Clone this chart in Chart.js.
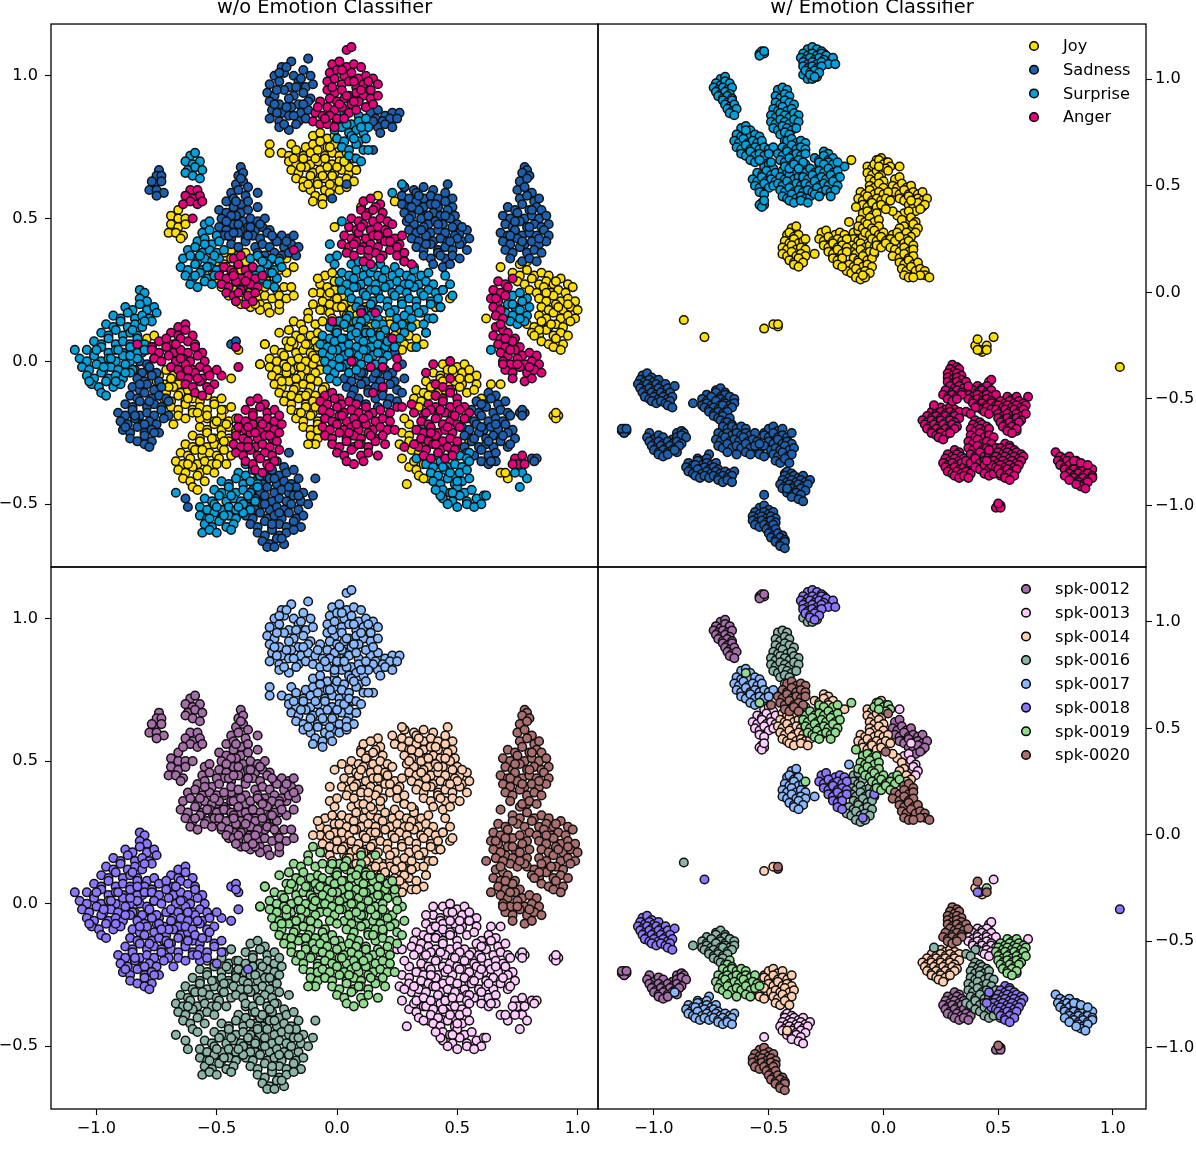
<!DOCTYPE html>
<html>
<head>
<meta charset="utf-8">
<style>
html, body { margin: 0; background: #fff; overflow: hidden; }
canvas { position: absolute; left: 0; top: 0; }
</style>
<script src="https://cdn.jsdelivr.net/npm/chart.js@4"></script>
</head>
<body>
<canvas id="topLeft" width="1196" height="1155"></canvas>
<canvas id="topRight" width="1196" height="1155"></canvas>
<canvas id="bottomLeft" width="1196" height="1155"></canvas>
<canvas id="bottomRight" width="1196" height="1155"></canvas>
<script>
// flat x,y pairs in hundredths of an axis unit
const tickValues = [-1, -0.5, 0, 0.5, 1];
const emotionNames = ['Joy', 'Sadness', 'Surprise', 'Anger'];
const emotionColors = ['#FFDF00', '#1C5FAE', '#00A0DC', '#E5007D'];
const speakerNames = ['spk-0012', 'spk-0013', 'spk-0014', 'spk-0016', 'spk-0017', 'spk-0018', 'spk-0019', 'spk-0020'];
const speakerColors = ['#A66EA8', '#FFCCFF', '#FFCFB0', '#8AB5A8', '#88B8FF', '#8B77FF', '#8FDC8F', '#AA6E6E'];
const panelTitles = ['w/o Emotion Classifier', 'w/ Emotion Classifier'];

// left column, without the classifier
const l17Sad = [-23,103,-19,105,-12,106,-26,100,-22,101,-18,100,-14,102,-11,100,-28,97,-24,98,-20,96,-16,98,-13,96,-10,97,-29,94,-26,93,-22,95,-18,93,-14,94,-11,92,-28,91,-24,90,-20,92,-16,90,-12,91,-27,88,-23,87,-19,89,-15,87,-12,88,-28,85,-24,84,-20,86,-16,84,-13,85,-24,82,-20,81,-17,83,14,87,17,88,20,86,23,87,26,87,16,85,19,84,22,85,25,85,17,82,20,83,23,82,18,80,15,84,15,74,4,62,-2,57,-21,103,-25,95,-17,96,-21,89,-25,87,-14,90,-26,90,-18,86,-22,83,-15,99,-24,101];
const l17Ang = [4,109,6,110,-2,104,1,105,4,103,7,104,10,103,-3,101,0,102,3,100,6,101,9,99,12,100,15,99,-4,98,-1,99,2,97,5,98,8,96,11,97,14,95,17,97,-4,95,-1,94,2,95,5,93,8,94,11,93,14,92,17,93,-3,92,0,91,3,92,6,90,9,91,12,89,15,90,-7,91,-4,89,-1,88,2,89,5,87,8,88,-9,87,-6,86,-3,86,0,85,3,85,-10,84,-7,83,-4,83,-1,82,2,102,7,98,13,98,10,95,4,93,-2,96,1,90,7,91,-5,85,-8,89];
const l17Joy = [-28,76,-28,73,-10,79,-7,80,-4,78,-1,79,-19,76,-13,75,-10,76,-7,77,-4,75,-1,76,2,75,-23,73,-20,72,-17,74,-14,72,-11,73,-8,74,-5,72,-2,73,1,72,4,73,-20,70,-17,69,-14,71,-11,69,-8,70,-5,71,-2,69,1,70,4,69,7,71,-19,67,-16,66,-13,68,-10,66,-7,67,-4,68,-1,66,2,67,5,66,8,67,-17,64,-14,63,-11,65,-8,63,-5,64,-2,65,1,63,4,64,7,63,-14,61,-11,60,-8,62,-5,60,-2,61,1,60,4,61,-9,58,-6,57,-3,59,-10,56,-6,55,5,68,8,67,-9,71,-3,75,-15,68,-6,65,-12,62,0,68,-18,71,-3,62,3,70];
const l17Sur = [3,87,6,88,9,86,0,84,3,85,6,83,9,84,12,85,4,88,-1,81,2,82,5,80,8,81,11,80,13,82,0,78,3,77,6,79,9,77,12,78,2,75,5,74,8,76,11,74,5,72,8,71,10,70,13,74,4,83,7,78,10,82];

const l12Sad = [-74,67,-75,65,-73,65,-76,62,-73,63,-78,60,-75,60,-72,59,-75,58,-77,63,-40,68,-41,65,-39,66,-42,62,-39,63,-37,61,-44,59,-41,60,-38,58,-46,56,-43,57,-40,55,-37,56,-33,59,-49,53,-46,52,-43,54,-40,52,-37,53,-33,54,-48,50,-45,49,-42,51,-39,49,-36,50,-33,49,-30,50,-49,47,-46,46,-43,48,-40,46,-37,47,-34,46,-31,47,-28,46,-47,44,-44,43,-41,45,-38,43,-35,44,-32,43,-29,45,-26,43,-23,44,-20,43,-18,44,-44,41,-41,40,-38,42,-34,40,-31,41,-28,40,-25,42,-22,40,-19,41,-16,40,-45,44,-33,38,-30,37,-26,38,-23,37,-20,38,-17,37,-32,36,-28,35,-24,36,-40,64,-42,56,-44,51,-41,48,-36,47,-32,48,-27,44,-21,42,-37,44,-43,45,-46,49];
const l12Sur = [-61,72,-59,73,-63,70,-60,69,-57,70,-62,67,-59,68,-56,67,-63,66,-60,65,-57,64,-55,48,-53,49,-56,45,-53,46,-50,44,-58,42,-55,43,-52,41,-49,42,-62,39,-59,40,-56,38,-53,39,-50,38,-47,39,-64,36,-61,37,-58,35,-55,36,-52,35,-49,36,-65,33,-62,32,-59,34,-56,32,-53,33,-50,32,-63,30,-60,29,-57,31,-54,29,-51,30,-61,27,-58,26,-55,28,-52,27,-36,36,-33,37,-30,35,-27,36,-24,35,-35,33,-32,32,-29,34,-26,32,-23,33,-34,30,-31,29,-28,31,-25,29,-29,27,-26,26,-57,37,-54,33,-59,30,-51,37,-55,41,-31,35,-27,31];
const l12Joy = [-66,53,-69,51,-66,50,-63,50,-69,48,-66,47,-63,48,-70,45,-67,45,-64,44,-65,43,-47,38,-44,39,-41,37,-38,38,-50,35,-47,34,-44,36,-41,34,-38,35,-24,35,-21,36,-52,32,-49,31,-46,33,-43,31,-40,32,-37,31,-24,32,-21,31,-18,33,-50,29,-47,28,-44,30,-41,28,-38,29,-35,28,-32,30,-29,28,-26,29,-48,26,-45,25,-42,27,-38,25,-34,26,-31,25,-28,27,-25,25,-22,26,-19,26,-45,23,-41,22,-37,24,-33,22,-30,23,-27,22,-24,23,-21,22,-18,23,-40,20,-36,19,-32,20,-29,19,-32,18,-28,17,-24,18,-36,22,-43,25,-30,26,-24,20,-34,20];
const l12Ang = [-61,60,-58,60,-63,58,-60,57,-57,58,-61,56,-58,55,-56,56,-64,55,-60,50,-43,36,-40,37,-47,33,-44,32,-41,34,-38,32,-35,33,-49,30,-46,29,-43,31,-40,29,-37,30,-34,29,-31,30,-48,27,-45,26,-42,28,-39,26,-36,27,-33,26,-46,24,-43,23,-40,25,-37,23,-34,24,-42,21,-38,20,-35,21,-18,39,-43,30,-38,28,-41,24];

const l14Sad = [28,61,32,60,36,61,40,60,46,62,27,58,30,57,33,59,36,57,39,58,42,57,45,59,48,57,27,55,30,54,33,56,36,54,39,55,42,54,45,56,48,54,28,52,31,51,34,53,37,51,40,52,43,51,46,53,49,51,29,49,32,48,35,50,38,48,41,49,44,48,47,50,50,48,30,46,33,45,36,47,39,45,42,46,45,45,48,47,51,45,54,46,31,43,34,42,37,44,40,42,43,43,46,42,49,44,52,42,55,43,33,40,36,39,39,41,42,39,45,40,48,39,51,41,54,39,36,37,39,36,42,38,45,36,48,37,51,36,40,34,44,33,47,34,34,58,41,55,31,54,38,51,45,51,35,46,42,48,50,43,37,41,47,42,43,37,30,50,52,47];
const l14Joy = [-1,47,10,54,24,56,28,61,17,58,-5,30,-2,31,-7,27,-4,26,-1,28,-7,24,-4,23,-1,25,2,23,-6,21,-3,20,0,22,3,20,6,21,9,20,-6,18,-3,17,0,19,3,17,6,18,9,17,12,19,15,17,-2,15,1,14,4,16,7,14,10,15,13,14,16,16,19,14,22,15,40,15,4,12,7,11,10,13,13,11,16,12,19,11,22,13,25,11,28,12,12,9,15,8,18,10,21,8,24,9,27,8,30,9,33,8,20,6,24,5,28,6,31,5,24,4,27,4,37,10,44,25,47,22,41,19,35,17,30,15,-3,24,2,19,8,16,14,12,20,10,26,13,33,13,36,6,-8,29,-10,24,31,12,43,19];
const l14Sur = [2,49,23,59,27,62,-3,41,-3,36,6,34,9,35,12,33,18,34,24,33,28,35,32,33,2,31,5,30,8,32,11,30,14,31,17,30,20,32,23,30,26,31,29,30,32,32,35,30,38,31,1,28,4,27,7,29,10,27,13,28,16,27,19,29,22,27,25,28,28,27,31,29,34,27,37,28,40,27,2,25,5,24,8,26,11,24,14,25,17,24,20,26,23,24,26,25,29,24,32,26,35,24,38,25,41,24,44,25,6,22,9,21,12,23,15,21,18,22,21,21,24,23,27,21,30,22,33,21,36,23,39,21,42,22,48,23,8,19,11,18,14,20,17,18,21,19,24,18,27,20,30,18,33,19,36,18,39,20,14,16,17,15,22,17,25,15,28,16,31,15,34,17,38,15,19,13,27,13,31,12,36,13,40,15,37,10,33,5,-1,34,0,37,45,30,47,27,7,26,16,25,30,27,43,19,15,33,8,14,12,15,16,13,20,11,24,12,28,10,12,10,17,9,22,8,26,8,5,16,10,18];
const l14Ang = [11,56,14,57,18,55,10,53,13,52,16,54,19,52,6,50,9,49,12,51,15,49,18,50,21,49,5,47,8,46,11,48,14,46,17,47,20,46,23,48,3,44,6,43,9,45,12,43,15,44,18,43,21,45,24,43,27,44,2,41,5,40,8,42,11,40,14,41,17,40,20,42,23,40,26,41,4,38,7,37,10,39,13,37,16,38,19,37,22,39,25,37,28,38,11,35,14,34,18,36,28,35,31,34,15,53,10,47,17,44,7,41,22,42,13,39,25,40];

const l20Sad = [78,68,79,67,77,66,80,65,76,63,79,64,75,60,78,61,81,59,76,57,79,58,82,56,84,57,71,54,74,53,77,55,80,53,83,54,85,53,69,51,72,50,75,52,78,50,81,51,84,50,87,51,70,48,73,47,76,49,79,47,82,48,85,47,88,48,68,45,71,44,74,46,77,44,80,45,83,44,86,46,88,44,69,42,72,41,75,43,78,41,81,42,84,41,87,42,70,39,73,38,76,40,79,38,82,39,85,38,72,36,77,35,80,36,83,35,74,49,80,47,77,42,84,43,72,44,81,53];
const l20Joy = [68,33,76,34,79,35,73,31,76,30,79,32,82,30,85,31,88,30,75,28,78,27,81,29,84,27,87,28,90,27,93,29,96,27,80,25,83,24,86,26,89,24,92,25,95,24,98,26,84,22,87,21,90,23,93,21,96,22,99,21,85,19,88,18,91,20,94,18,97,19,100,18,84,16,87,15,90,17,93,15,96,16,99,15,62,15,79,13,82,12,85,14,88,12,91,13,94,12,97,14,81,10,84,9,87,11,90,9,93,10,96,9,85,7,88,6,91,8,94,6,90,5,93,4,87,24,92,19,89,13,84,11,96,20,91,28,78,15,82,9];
const l20Ang = [67,28,70,27,73,29,65,25,68,24,71,26,64,22,67,21,70,23,65,19,68,18,66,16,69,15,66,12,69,11,65,9,68,8,71,10,74,8,67,6,70,5,73,7,76,5,68,3,71,2,74,4,77,2,80,3,83,2,69,0,72,-1,75,1,78,-1,81,0,84,-1,70,-3,73,-4,76,-2,79,-4,82,-3,85,-4,73,-6,78,-7,81,-6,69,-1,72,4,68,13,75,-1,66,22,70,8,80,-2];
const l20Sur = [73,23,76,24,79,22,71,20,74,19,77,21,80,19,70,17,73,16,76,18,79,16,72,14,75,13,78,14,64,4,73,20,76,15];

const l19Joy = [-10,20,-12,17,-7,18,-18,14,-15,13,-12,15,-9,13,-6,14,-24,10,-20,11,-17,9,-14,11,-11,9,-8,10,-30,6,-21,7,-18,6,-15,8,-12,6,-9,7,-6,6,-26,4,-23,3,-20,5,-17,3,-14,4,-11,3,-8,5,-5,3,-28,1,-25,0,-22,2,-19,0,-16,1,-13,0,-10,2,-7,0,-28,-2,-25,-3,-22,-1,-19,-3,-16,-2,-13,-3,-10,-1,-7,-3,-27,-5,-24,-6,-21,-4,-18,-6,-15,-5,-12,-6,-9,-4,-26,-8,-23,-9,-20,-7,-17,-9,-14,-8,-11,-9,-8,-7,-5,-9,-24,-11,-21,-12,-18,-10,-15,-12,-12,-11,-9,-12,-6,-10,-22,-14,-19,-15,-16,-13,-13,-15,-10,-14,-7,-15,-4,-13,-19,-17,-16,-18,-13,-16,-10,-18,-7,-17,-4,-18,-17,-20,-14,-21,-11,-19,-8,-21,-5,-20,-14,-23,-11,-24,-8,-22,-5,-24,-11,-26,-8,-27,-9,-29,-12,-29,-32,-1,-19,7,-13,6,-21,-2,-15,-2,-9,1,-23,-7,-17,-6,-11,-6,-19,-12,-13,-12,-15,-18,-9,-16,-8,-24];
const l19Sad = [18,5,21,6,21,2,24,3,-1,11,8,-3,11,-4,14,-2,17,-4,20,-3,23,-4,3,-6,6,-7,9,-5,12,-7,15,-6,18,-7,21,-5,24,-7,4,-9,7,-10,10,-8,13,-10,16,-9,19,-10,22,-8,25,-10,6,-12,9,-13,13,-11,16,-13,19,-12,22,-13,12,-15,17,-16,21,-15,27,-1,28,-6,27,-11,25,-14,10,-4,16,-4];
const l19Sur = [1,14,4,15,10,14,-3,12,0,11,3,13,6,11,9,12,12,11,-6,9,-3,8,0,10,3,8,6,9,9,8,12,10,15,8,18,9,-7,6,-4,5,-1,7,2,5,5,6,8,5,11,7,14,5,17,6,20,5,-6,3,-3,2,0,4,3,2,6,3,9,2,12,4,15,2,18,3,21,2,-5,0,-2,-1,1,1,4,-1,7,0,10,-1,13,1,16,-1,19,0,-4,-3,-1,-4,2,-2,5,-4,8,-3,-3,-6,0,-7,2,8,8,10,-2,4,5,3,11,4,17,3,1,-2,14,10,21,7,24,5];
const l19Ang = [-5,-12,-2,-11,1,-13,15,-11,-7,-14,-4,-15,-1,-13,2,-15,5,-14,8,-15,-6,-17,-3,-18,0,-16,3,-18,6,-17,9,-18,12,-16,15,-18,18,-17,-5,-20,-2,-21,1,-19,4,-21,7,-20,10,-21,13,-19,16,-21,19,-20,22,-21,-6,-23,-3,-24,0,-22,3,-24,6,-23,9,-24,12,-22,15,-24,18,-23,21,-24,-5,-26,-2,-27,1,-25,4,-27,7,-26,10,-27,13,-25,16,-27,19,-26,-2,-29,1,-30,4,-28,7,-30,10,-29,13,-30,16,-28,0,-32,3,-33,6,-31,10,-33,13,-32,17,-33,4,-35,7,-36,11,-35,-2,14,10,17,23,8,25,1,25,-2,6,0,14,-2,19,-2,19,-9,16,17,2,-19,8,-22,14,-26,5,-25,11,-20,20,-29,24,-24,22,-18,9,-29];

const l13Joy = [44,-1,47,0,50,-2,53,-1,40,-4,43,-5,46,-3,49,-5,52,-4,55,-3,58,-5,37,-7,40,-8,43,-6,46,-8,49,-7,52,-8,55,-6,58,-8,64,-8,68,-8,33,-10,36,-11,39,-9,42,-11,45,-10,48,-11,51,-9,54,-11,57,-10,32,-13,35,-14,38,-12,60,-13,34,-16,27,-25,30,-26,30,-28,33,-29,36,-27,31,-31,34,-32,37,-30,27,-34,30,-37,33,-38,36,-36,34,-40,38,-41,36,-41,51,-31,55,-28,54,-25,90,-19,92,-19,91,-20,91,-18,68,-39,71,-41,70,-39,29,-43,48,-3,44,-7,51,-6,41,-12,30,-22,32,-35,28,-20,26,-29];
const l13Sad = [63,-11,66,-12,58,-14,61,-15,64,-13,67,-15,70,-14,56,-17,59,-18,62,-16,65,-18,68,-17,71,-18,54,-20,57,-21,60,-19,63,-21,66,-20,69,-21,72,-19,52,-23,55,-24,58,-22,61,-24,64,-23,67,-24,70,-22,73,-24,53,-26,56,-27,59,-25,62,-27,65,-26,68,-27,71,-25,74,-27,50,-29,53,-30,56,-28,59,-30,62,-29,65,-30,68,-28,71,-30,54,-32,57,-33,60,-31,63,-33,66,-32,60,-35,63,-36,66,-35,64,-35,76,-18,78,-18,77,-17,77,-19,81,-34,83,-34,82,-35,60,-23,66,-22,57,-27,63,-28,69,-26,60,-15,72,-29];
const l13Sur = [33,-34,55,-32,42,-33,45,-34,48,-32,51,-33,54,-34,37,-36,40,-37,43,-35,46,-37,49,-36,52,-37,55,-35,39,-39,42,-40,45,-38,48,-40,51,-39,54,-38,40,-42,43,-43,46,-41,49,-43,52,-42,55,-41,44,-45,47,-46,50,-44,53,-46,44,-48,48,-49,51,-47,54,-49,58,-48,61,-47,46,-50,50,-51,54,-50,60,-50,57,-51,62,-47,43,-47,77,-39,79,-41,76,-44,74,-39,36,-22,47,-39,44,-37,50,-42,56,-45,41,-45,48,-46];
const l13Ang = [40,-1,47,0,37,-4,41,-8,47,-6,44,-9,47,-10,41,-12,44,-13,47,-11,50,-13,38,-15,41,-16,44,-14,47,-16,50,-15,53,-16,31,-15,25,-16,27,-16,32,-18,36,-19,39,-17,42,-19,45,-18,48,-19,51,-17,55,-18,35,-21,38,-22,41,-20,44,-22,47,-21,50,-22,53,-20,33,-24,36,-25,39,-23,42,-25,45,-24,48,-25,51,-23,35,-27,38,-28,41,-26,44,-28,47,-27,50,-28,34,-30,37,-31,40,-29,43,-31,46,-30,49,-31,28,-30,32,-29,36,-33,39,-34,42,-32,45,-34,48,-33,74,-34,77,-33,75,-36,73,-36,78,-36,43,-17,39,-25,46,-23,41,-29,49,-19,37,-18];

const l18Sur = [-82,25,-80,24,-82,22,-79,21,-88,19,-85,18,-82,20,-79,18,-76,19,-93,16,-90,15,-87,17,-84,15,-81,16,-78,15,-75,17,-96,13,-93,12,-90,14,-87,12,-84,13,-81,12,-77,14,-98,10,-95,9,-92,11,-89,9,-86,10,-83,9,-101,7,-98,6,-95,8,-92,6,-89,7,-86,6,-83,8,-80,6,-104,4,-101,3,-98,5,-95,3,-92,4,-89,3,-86,5,-83,3,-80,4,-109,4,-107,1,-104,0,-101,2,-98,0,-95,1,-92,0,-89,2,-86,0,-83,1,-106,-2,-103,-3,-100,-1,-97,-3,-94,-2,-91,-3,-88,-1,-85,-3,-104,-5,-101,-6,-98,-4,-95,-6,-92,-5,-89,-6,-86,-4,-102,-8,-99,-9,-96,-7,-93,-9,-90,-8,-98,-11,-96,-12,-85,11,-91,4,-97,-2,-88,-4,-94,1,-100,4,-92,-7,-80,14,-86,2,-103,-7];
const l18Joy = [-79,8,-76,9,-80,5,-77,5,-77,-4,-74,-5,-71,-3,-68,-5,-75,-7,-72,-8,-69,-6,-66,-8,-74,-10,-71,-11,-68,-9,-65,-11,-62,-10,-72,-13,-69,-14,-66,-12,-63,-14,-60,-13,-57,-14,-54,-12,-51,-14,-48,-13,-69,-16,-66,-17,-63,-15,-60,-17,-57,-16,-54,-17,-51,-15,-48,-17,-66,-19,-63,-20,-60,-18,-57,-20,-54,-19,-68,-22,-50,-21,-41,4,-44,-6,-32,-1,-30,6,-62,-13,-58,-18,-70,-9];
const l18Sad = [-81,3,-79,4,-82,0,-79,-1,-76,1,-84,-3,-81,-4,-78,-2,-75,-4,-83,-6,-80,-7,-77,-5,-74,-7,-85,-9,-82,-10,-79,-8,-76,-10,-73,-9,-86,-12,-83,-13,-80,-11,-77,-13,-74,-12,-71,-13,-88,-15,-85,-16,-82,-14,-79,-16,-76,-15,-73,-16,-70,-14,-91,-18,-88,-19,-85,-17,-82,-19,-79,-18,-76,-19,-73,-17,-70,-19,-90,-21,-87,-22,-84,-20,-81,-22,-78,-21,-75,-22,-72,-20,-89,-24,-86,-25,-83,-23,-80,-25,-77,-24,-74,-25,-86,-27,-83,-28,-80,-26,-77,-28,-80,-29,-78,-30,-44,6,-42,7,-82,-8,-78,-14,-84,-19,-80,-22,-76,-25,-88,-23];
const l18Ang = [-66,12,-63,13,-69,10,-66,9,-63,11,-60,9,-83,6,-77,5,-74,7,-71,8,-68,6,-65,8,-62,7,-59,6,-77,4,-74,3,-71,5,-68,3,-65,4,-62,3,-59,5,-56,3,-76,1,-73,0,-70,2,-67,0,-64,1,-61,0,-58,2,-55,0,-69,-2,-66,-3,-63,-1,-60,-3,-57,-2,-54,-3,-65,-5,-62,-6,-59,-4,-56,-6,-53,-5,-48,-5,-63,-8,-60,-9,-57,-7,-54,-9,-51,-8,-59,-11,-56,-12,-53,-10,-42,5,-41,-2,-37,-23,-65,1,-62,-3,-58,-6,-67,6,-50,-3];

const l16Joy = [-47,-17,-44,-16,-54,-20,-51,-21,-48,-19,-45,-21,-42,-20,-57,-23,-54,-24,-51,-22,-48,-24,-45,-23,-42,-24,-60,-26,-57,-27,-54,-25,-51,-27,-48,-26,-45,-27,-42,-25,-63,-29,-60,-30,-57,-28,-54,-30,-51,-29,-48,-30,-45,-28,-42,-30,-65,-32,-62,-33,-59,-31,-56,-33,-53,-32,-50,-33,-47,-31,-44,-33,-67,-35,-64,-36,-61,-34,-58,-36,-55,-35,-52,-36,-49,-34,-46,-36,-66,-38,-63,-39,-60,-37,-57,-39,-54,-38,-51,-39,-64,-41,-61,-42,-58,-40,-55,-42,-60,-44,-58,-45,-52,-27,-47,-28,-56,-31,-50,-36,-62,-36,-46,-22];
const l16Sad = [-28,-36,-25,-35,-22,-37,-33,-39,-30,-40,-27,-38,-24,-40,-21,-39,-18,-38,-34,-42,-31,-43,-28,-41,-25,-43,-22,-42,-19,-43,-16,-41,-35,-45,-32,-46,-29,-44,-26,-46,-23,-45,-20,-46,-17,-44,-14,-46,-36,-48,-33,-49,-30,-47,-27,-49,-24,-48,-21,-49,-18,-47,-15,-49,-9,-41,-37,-51,-34,-52,-31,-50,-28,-52,-25,-51,-22,-52,-19,-50,-16,-52,-10,-47,-38,-54,-35,-55,-32,-53,-29,-55,-26,-54,-23,-55,-20,-53,-17,-55,-14,-54,-36,-57,-33,-58,-30,-56,-27,-58,-24,-57,-21,-58,-18,-56,-15,-58,-33,-60,-30,-61,-27,-59,-24,-61,-21,-60,-18,-59,-31,-63,-28,-64,-25,-62,-22,-64,-29,-65,-26,-65,-20,-32,-62,-51,-63,-48,-26,-41,-20,-44,-30,-50,-24,-53,-34,-48,-27,-57,-16,-47,-12,-50,-23,-62];
const l16Sur = [-38,-36,-35,-37,-41,-39,-38,-40,-35,-38,-32,-40,-48,-42,-45,-43,-42,-41,-39,-43,-36,-42,-33,-43,-51,-45,-48,-46,-45,-44,-42,-46,-39,-45,-36,-46,-33,-44,-55,-48,-52,-49,-49,-47,-46,-49,-43,-48,-40,-49,-37,-47,-34,-49,-57,-51,-54,-52,-51,-50,-48,-52,-45,-51,-42,-52,-39,-50,-36,-52,-57,-54,-54,-55,-51,-53,-48,-55,-45,-54,-42,-55,-39,-53,-55,-57,-52,-58,-49,-56,-46,-58,-43,-57,-56,-60,-53,-59,-50,-60,-44,-59,-67,-46,-44,-47,-50,-51,-47,-54,-41,-51,-53,-55];
const l16Ang = [-36,-14,-33,-13,-30,-15,-38,-17,-35,-18,-32,-16,-29,-18,-26,-17,-41,-20,-38,-21,-35,-19,-32,-21,-29,-20,-26,-21,-24,-19,-41,-23,-38,-24,-35,-22,-32,-24,-29,-23,-26,-24,-23,-22,-42,-26,-39,-27,-36,-25,-33,-27,-30,-26,-27,-27,-24,-25,-43,-29,-40,-30,-37,-28,-34,-30,-31,-29,-28,-30,-25,-28,-42,-32,-39,-33,-36,-31,-33,-33,-30,-32,-27,-33,-24,-31,-38,-35,-35,-36,-32,-34,-29,-36,-26,-35,-34,-38,-31,-39,-28,-37,-34,-25,-31,-22,-37,-30,-28,-26];

// right column, with the classifier
const r12Sur = [-54,112,-53,112,-52,112,-53,113,-54,111,-52,113,-71,100,-69,101,-73,98,-71,97,-69,99,-67,98,-74,96,-72,95,-70,96,-68,95,-66,96,-73,94,-71,93,-69,94,-67,93,-72,92,-70,91,-68,92,-66,91,-70,90,-68,89,-66,90,-69,88,-67,87,-65,88,-68,86,-66,85,-64,86,-67,84,-65,83];
const r16Sur = [-35,102,-33,100,-31,100,-29,101,-26,112,-24,110,-25,108,-46,95,-44,96,-42,95,-47,92,-45,91,-43,93,-41,92,-47,89,-45,88,-43,90,-41,89,-39,88,-48,86,-46,85,-44,87,-42,85,-40,86,-49,83,-47,82,-45,84,-43,83,-41,82,-39,84,-37,83,-49,80,-47,79,-45,81,-43,80,-41,79,-39,81,-37,80,-48,77,-46,76,-44,78,-42,77,-40,76,-38,77,-45,74,-43,75,-41,74,-43,71];
const r18Sur = [-33,114,-31,115,-29,114,-27,113,-35,112,-33,111,-31,112,-29,111,-27,112,-25,111,-36,110,-34,109,-32,110,-30,109,-28,110,-26,109,-22,110,-35,108,-33,107,-31,108,-29,107,-27,108,-24,107,-21,107,-35,106,-33,105,-31,106,-29,105,-27,106,-34,104,-32,103,-30,104,-28,103,-32,102,-30,101];
const r17Sur = [-62,77,-60,78,-58,76,-64,74,-62,73,-60,75,-58,73,-56,74,-54,73,-65,71,-63,70,-61,72,-59,70,-57,71,-55,70,-53,71,-64,68,-62,67,-60,69,-58,67,-56,68,-54,67,-52,68,-50,67,-48,68,-62,65,-60,64,-58,66,-56,64,-54,65,-52,64,-50,65,-58,62,-56,61,-54,62];
const r20Sur = [-42,71,-40,72,-38,70,-36,71,-34,70,-44,68,-42,67,-40,69,-38,67,-36,68,-34,67,-46,65,-44,64,-42,66,-40,64,-38,65,-36,64,-34,65,-45,62,-43,61,-41,63,-39,61,-37,62,-35,61,-43,59,-41,58,-39,60,-37,58,-49,61];
const r13Sur = [-52,59,-50,60,-48,58,-55,56,-53,55,-51,57,-49,55,-47,56,-57,53,-55,52,-53,54,-51,52,-49,53,-47,52,-56,50,-54,49,-52,51,-50,49,-48,50,-54,47,-52,46,-53,42,-52,41,-54,41,-53,40,-52,43];
const r14Sur = [-44,57,-42,56,-38,57,-45,54,-43,53,-41,55,-39,53,-37,54,-35,53,-46,51,-44,50,-42,52,-40,50,-38,51,-36,50,-34,51,-45,48,-43,47,-41,49,-39,47,-37,48,-35,47,-33,48,-31,47,-44,45,-42,44,-40,46,-38,44,-36,45,-34,44,-32,45,-41,43,-39,42,-36,43,-33,42,-26,66,-24,65,-30,63,-28,62,-26,64,-24,62,-22,63,-28,60,-26,59,-24,61,-21,59,-17,59];
const r19Sur = [-60,76,-54,62,-34,60,-28,61,-26,60,-22,60,-20,61,-36,57,-34,56,-32,58,-30,56,-28,57,-26,56,-24,58,-22,56,-20,57,-35,54,-33,53,-31,55,-29,53,-27,54,-25,53,-23,55,-21,53,-19,54,-34,51,-32,50,-30,52,-28,50,-26,51,-24,50,-22,52,-20,50,-33,48,-31,47,-29,49,-27,47,-25,48,-23,47,-21,48,-30,46,-28,45,-23,45];

const r12Joy = [-46,-16,5,53,7,54,4,50,6,49,8,51,10,49,12,50,5,47,7,46,9,48,11,46,13,47,15,46,17,47,7,44,9,43,11,45,13,43,15,44,17,43,19,44,11,41,13,40,15,42,17,40,18,41,14,38,16,39];
const r13Joy = [46,-42,48,-21,7,59,9,37,11,38,8,34,10,33,12,35,14,33,9,31,11,30,13,32,15,30,10,28,12,27,14,28,12,43];
const r14Joy = [-52,-17,-48,-15,-3,62,-1,63,1,61,-7,59,-5,58,-3,60,-1,58,1,59,-7,56,-5,55,-3,57,-1,55,-6,53,-4,52,-2,54,0,52,-6,50,-4,49,-2,51,0,49,-10,47,-8,46,-6,48,-4,46,-2,47,0,46,2,47,-11,44,-9,43,-7,45,-5,43,-3,44,-1,43,1,44,-9,41,-7,40,-5,42,-3,40,-1,41,6,36,8,34,9,31,7,30,10,28,12,26,10,25,4,38,3,43,40,-25,43,-28];
const r16Joy = [-87,-13,-13,28,-11,29,-13,25,-11,24,-9,26,-14,22,-12,21,-10,23,-8,21,-6,22,-4,21,-14,19,-12,18,-10,20,-8,18,-6,19,-4,18,-13,16,-11,15,-9,17,-7,15,-5,16,-15,13,-13,12,-11,14,-9,12,-7,13,-5,12,-16,10,-14,9,-12,11,-10,9,-8,10,-6,9,-12,7,-10,6,-8,7,42,-27];
const r17Joy = [-40,30,-38,31,-42,27,-41,28,-39,26,-37,27,-43,24,-41,23,-39,25,-37,23,-35,24,-44,21,-42,20,-40,22,-38,20,-36,21,-34,20,-44,18,-42,17,-40,19,-38,17,-36,18,-34,17,-30,18,-41,15,-39,14,-37,16,-35,14,-39,13,-37,12,-15,33];
const r18Joy = [-78,-21,103,-35,-27,28,-25,29,-21,27,-19,28,-17,27,-28,25,-26,24,-24,26,-22,24,-20,25,-18,24,-16,25,-26,22,-24,21,-22,23,-20,21,-18,22,-16,21,-24,19,-22,18,-20,20,-18,18,-16,19,-22,16,-20,15,-18,16,-20,13,-18,12,-4,19,-9,8,41,-27];
const r19Joy = [-34,25,-14,62,-4,60,-2,62,0,60,2,61,3,59,1,58,-2,59,-9,37,-7,38,-5,36,-3,37,-10,34,-8,33,-6,35,-4,33,-2,34,-11,31,-9,30,-7,32,-5,30,-2,31,-8,28,-6,27,-4,29,-2,27,0,28,4,27,6,28,-5,25,-3,24,-1,26,1,24,3,25,5,24,-3,22,-1,21,1,23,3,21,-12,40,7,26,45,-25];
const r20Joy = [-46,-15,2,57,1,39,9,23,11,24,13,22,5,20,7,19,9,21,11,19,13,20,4,17,7,16,9,18,11,16,13,17,7,14,9,13,11,15,13,13,15,14,8,11,10,10,12,12,14,10,16,11,18,10,9,8,11,7,18,8,20,7,16,8,13,7,41,-22,45,-27];

const r12Sad = [-113,-64,-114,-65,-112,-65,-113,-66,-114,-64,-112,-64,-102,-66,-90,-66,-88,-65,-87,-66,-103,-68,-100,-69,-98,-67,-96,-68,-92,-69,-90,-68,-88,-67,-86,-68,-102,-70,-100,-71,-98,-70,-96,-71,-94,-70,-92,-71,-90,-70,-88,-71,-101,-72,-99,-73,-97,-72,-95,-73,-93,-72,-91,-73,-89,-72,-100,-74,-98,-75,-96,-74,-94,-75,-92,-74,-90,-75,-98,-76,-96,-77,-94,-76,-52,-66,-50,-70];
const r13Sad = [-44,-77,-43,-85,-42,-84,-40,-85,-43,-86,-41,-87,-39,-86,-37,-87,-35,-86,-44,-88,-42,-89,-40,-88,-38,-89,-36,-88,-34,-89,-32,-88,-45,-90,-43,-91,-41,-90,-39,-91,-37,-90,-35,-91,-33,-90,-44,-92,-42,-93,-40,-92,-38,-93,-36,-92,-34,-93,-42,-94,-40,-95,-38,-94,-36,-95,-40,-96,-37,-97,-52,-95,-35,-98];
const r14Sad = [-42,-92,-50,-64,-48,-63,-46,-65,-44,-64,-52,-67,-50,-68,-48,-66,-46,-68,-44,-67,-42,-68,-40,-66,-50,-70,-48,-71,-46,-69,-44,-71,-42,-70,-40,-71,-56,-73,-54,-74,-52,-72,-49,-74,-47,-73,-45,-74,-43,-72,-41,-74,-39,-73,-54,-76,-52,-77,-48,-76,-46,-77,-44,-75,-42,-77,-40,-76,-47,-79,-45,-80,-43,-78,-41,-80];
const r16Sad = [-73,-46,-71,-45,-69,-47,-77,-48,-75,-49,-73,-47,-71,-49,-69,-48,-67,-49,-79,-50,-77,-51,-75,-49,-73,-51,-71,-50,-69,-51,-67,-49,-65,-50,-83,-52,-79,-53,-77,-52,-75,-53,-73,-51,-71,-53,-69,-52,-67,-53,-65,-52,-78,-54,-76,-55,-74,-54,-72,-55,-70,-53,-68,-55,-66,-54,-76,-56,-74,-57,-72,-56,-70,-57,-68,-56,-74,-58,-72,-59,-70,-58,-71,-60,-69,-61];
const r17Sad = [-91,-74,-76,-76,-81,-78,-79,-79,-77,-78,-85,-80,-83,-81,-81,-79,-79,-81,-77,-80,-75,-81,-73,-80,-86,-82,-84,-83,-82,-81,-80,-83,-78,-82,-76,-83,-74,-82,-72,-83,-85,-84,-83,-85,-81,-83,-79,-85,-77,-84,-75,-85,-73,-84,-71,-85,-69,-84,-67,-85,-65,-84,-82,-86,-80,-87,-78,-86,-76,-87,-74,-86,-72,-87,-70,-86,-68,-87,-66,-86,-72,-88,-70,-89,-68,-88,-66,-89];
const r18Sad = [-105,-39,-103,-38,-101,-40,-106,-41,-104,-42,-102,-41,-100,-42,-98,-41,-107,-43,-105,-44,-103,-43,-101,-44,-99,-43,-97,-44,-95,-43,-106,-45,-104,-46,-102,-45,-100,-46,-98,-45,-96,-46,-94,-45,-91,-44,-105,-47,-103,-48,-101,-47,-99,-48,-97,-47,-95,-48,-93,-47,-104,-49,-102,-50,-100,-49,-98,-50,-96,-49,-94,-50,-92,-49,-101,-51,-99,-52,-97,-51,-95,-52,-93,-51,-94,-53,-92,-54];
const r19Sad = [-67,-59,-68,-61,-66,-62,-70,-63,-68,-64,-66,-63,-64,-64,-62,-63,-60,-64,-72,-66,-70,-67,-68,-66,-66,-67,-64,-66,-62,-67,-60,-66,-58,-67,-56,-66,-73,-69,-71,-70,-69,-68,-67,-70,-65,-69,-63,-70,-61,-68,-59,-70,-57,-69,-55,-70,-72,-72,-70,-73,-68,-71,-66,-73,-64,-72,-62,-73,-60,-71,-58,-73,-56,-72,-68,-75,-64,-76,-60,-75,-58,-76,-54,-71];
const r20Sad = [-54,-101,-52,-100,-50,-102,-56,-103,-54,-104,-52,-103,-50,-104,-48,-103,-57,-105,-55,-106,-53,-105,-51,-106,-49,-105,-47,-106,-57,-107,-55,-108,-53,-107,-51,-108,-49,-107,-47,-108,-56,-109,-54,-110,-52,-109,-50,-110,-48,-109,-51,-111,-49,-112,-47,-111,-50,-113,-48,-114,-46,-113,-44,-114,-49,-115,-47,-116,-45,-115,-43,-116,-47,-117,-45,-118,-43,-117,-45,-119,-43,-120];

const r12Ang = [50,-100,51,-100,49,-101,51,-101,31,-74,33,-75,28,-76,30,-77,32,-76,34,-77,27,-78,29,-79,31,-78,33,-79,35,-78,37,-79,26,-80,28,-81,30,-80,32,-81,34,-80,36,-81,38,-80,27,-82,29,-83,31,-82,33,-83,35,-82,37,-83,39,-82,28,-84,30,-85,32,-84,34,-85,36,-84,38,-85,31,-86,33,-87,35,-86,37,-87];
const r13Ang = [63,-49,47,-41,41,-44,43,-45,45,-44,39,-46,41,-47,43,-46,45,-47,47,-46,37,-48,39,-49,41,-48,43,-49,45,-48,47,-49,49,-48,37,-50,39,-51,41,-50,43,-51,45,-50,47,-51,39,-52,41,-53,43,-52,45,-53,47,-52,49,-53,41,-54,43,-55,45,-54,47,-55,44,-56,46,-57];
const r14Ang = [25,-54,27,-55,29,-54,31,-55,21,-56,23,-57,25,-56,27,-57,29,-56,31,-57,33,-56,19,-58,21,-59,23,-58,25,-59,27,-58,29,-59,31,-58,33,-59,17,-60,19,-61,21,-60,23,-61,25,-60,27,-61,29,-60,31,-61,18,-62,20,-63,22,-62,24,-63,26,-62,28,-63,30,-62,32,-63,19,-64,21,-65,23,-64,25,-65,27,-64,29,-65,31,-64,21,-66,23,-67,25,-66,27,-67,29,-66,24,-68,26,-69];
const r16Ang = [22,-53,40,-54,36,-56,38,-57,40,-60,42,-61,39,-62,41,-63,43,-62,45,-63,38,-64,40,-65,42,-64,44,-65,46,-64,38,-67,40,-68,42,-66,44,-68,46,-67,48,-68,37,-70,39,-71,41,-69,43,-71,45,-70,47,-71,37,-73,39,-74,41,-72,43,-74,45,-73,47,-74,49,-73,38,-76,40,-77,42,-75,44,-77,46,-76,48,-77,50,-75,36,-79,38,-80,40,-78,42,-80,44,-79,46,-80,48,-78,50,-80,52,-79,40,-82,42,-83,44,-81,46,-83,48,-82,50,-83,52,-81,44,-85,46,-86,48,-85,51,-86];
const r17Ang = [75,-75,77,-77,79,-78,81,-77,76,-79,78,-80,80,-79,82,-80,84,-79,77,-81,79,-82,81,-81,83,-82,85,-81,87,-82,79,-83,81,-84,83,-83,85,-84,87,-83,89,-84,91,-83,81,-85,83,-86,85,-85,87,-86,89,-85,91,-86,83,-87,85,-88,87,-87,89,-88,91,-87,85,-89,87,-90,89,-89,86,-91,88,-92,83,-79,86,-80,89,-81,79,-86,81,-88,84,-90];
const r18Ang = [53,-71,55,-72,51,-73,53,-74,55,-73,57,-74,50,-75,52,-76,54,-75,56,-76,58,-75,60,-76,49,-77,51,-78,53,-77,55,-78,57,-77,59,-78,61,-77,48,-79,50,-80,52,-79,54,-80,56,-79,58,-80,60,-79,47,-81,49,-82,51,-81,53,-82,55,-81,57,-82,59,-81,50,-83,52,-84,54,-83,56,-84,58,-83,51,-85,53,-86,55,-85,57,-86,53,-87,55,-88,46,-74,45,-79,58,-65];
const r19Ang = [54,-49,56,-50,58,-49,51,-51,53,-52,55,-51,57,-52,59,-51,61,-52,50,-53,52,-54,54,-53,56,-54,58,-53,60,-54,62,-53,49,-55,51,-56,53,-55,55,-56,57,-55,59,-56,61,-55,50,-57,52,-58,54,-57,56,-58,58,-57,60,-58,62,-57,50,-59,52,-60,54,-59,56,-60,58,-59,60,-60,51,-61,53,-62,55,-61,57,-62,59,-61,52,-63,54,-64,56,-63,58,-64,54,-65,56,-66];
const r20Ang = [50,-99,30,-34,32,-35,29,-36,31,-37,33,-36,28,-38,30,-39,32,-38,34,-39,28,-40,30,-41,32,-40,34,-41,28,-42,30,-43,32,-42,34,-43,36,-42,29,-44,31,-45,33,-44,35,-45,37,-44,27,-46,30,-47,32,-46,34,-47,26,-48,28,-49,30,-48,32,-49,34,-48,28,-50,30,-51,32,-50];

function toPoints(lists) {
    const points = [];
    lists.forEach(flat => {
        for (let i = 0; i < flat.length; i += 2) {
            points.push({ x: flat[i] / 100, y: flat[i + 1] / 100 });
        }
    });
    return points;
}

const leftByEmotion = [
    [l12Joy, l13Joy, l14Joy, l16Joy, l17Joy, l18Joy, l19Joy, l20Joy],
    [l12Sad, l13Sad, l14Sad, l16Sad, l17Sad, l18Sad, l19Sad, l20Sad],
    [l12Sur, l13Sur, l14Sur, l16Sur, l17Sur, l18Sur, l19Sur, l20Sur],
    [l12Ang, l13Ang, l14Ang, l16Ang, l17Ang, l18Ang, l19Ang, l20Ang]
];
const rightByEmotion = [
    [r12Joy, r13Joy, r14Joy, r16Joy, r17Joy, r18Joy, r19Joy, r20Joy],
    [r12Sad, r13Sad, r14Sad, r16Sad, r17Sad, r18Sad, r19Sad, r20Sad],
    [r12Sur, r13Sur, r14Sur, r16Sur, r17Sur, r18Sur, r19Sur, r20Sur],
    [r12Ang, r13Ang, r14Ang, r16Ang, r17Ang, r18Ang, r19Ang, r20Ang]
];

function scatterSets(groups, names, colors) {
    return groups.map((lists, i) => ({
        label: names[i],
        data: toPoints(lists),
        backgroundColor: colors[i],
        borderColor: '#111',
        borderWidth: 1.5,
        pointRadius: 4.3,
        // chart.js paints the first dataset last, the later series must end up on top
        order: groups.length - i
    }));
}
// same clusters, grouped the other way round for the bottom row
const bySpeaker = table => speakerNames.map((_, s) => table.map(row => row[s]));

const tickFont = { family: '"DejaVu Sans"', size: 16.2 };

// frame around the axes and a matplotlib style legend
const panelDeco = {
    id: 'panelDeco',
    afterDraw(chart, args, opts) {
        const { ctx, chartArea: a } = chart;
        ctx.save();
        ctx.strokeStyle = '#000';
        ctx.lineWidth = 1.3;
        ctx.strokeRect(a.left, a.top, a.right - a.left, a.bottom - a.top);
        if (opts.legendX) {
            ctx.font = '16.2px "DejaVu Sans"';
            ctx.textBaseline = 'middle';
            chart.data.datasets.forEach((ds, i) => {
                const y = opts.legendY + i * 23.72;
                ctx.beginPath();
                ctx.arc(opts.legendX, y, 4.3, 0, Math.PI * 2);
                ctx.fillStyle = ds.backgroundColor;
                ctx.fill();
                ctx.lineWidth = 1.5;
                ctx.stroke();
                ctx.fillStyle = '#000';
                ctx.fillText(ds.label, opts.legendX + 29, y + 1);
            });
        }
        ctx.restore();
    }
};

function makeAxis(axisId, min, max, side, showTicks) {
    return {
        type: 'linear',
        min: min,
        max: max,
        position: side,
        display: showTicks,
        afterBuildTicks(axis) {
            axis.ticks = tickValues.filter(v => v >= min && v <= max).map(v => ({ value: v }));
        },
        afterFit(axis) {
            axis.paddingTop = 0; axis.paddingBottom = 0;
            axis.paddingLeft = 0; axis.paddingRight = 0;
            if (axisId === 'x') axis.height = showTicks ? 46 : 0;
            else axis.width = side === 'left' ? 51 : 50;
        },
        grid: { drawOnChartArea: false, drawTicks: true, tickLength: 6, tickWidth: 1.1, tickColor: '#000' },
        border: { display: false },
        ticks: {
            autoSkip: false,
            maxRotation: 0,
            padding: axisId === 'x' ? 4 : (side === 'left' ? 7 : 3),
            color: '#000',
            font: tickFont,
            callback: v => (v < 0 ? '\u2212' : '') + Math.abs(v).toFixed(1)
        }
    };
}

function makePanel(id, sets, opts) {
    const left = opts.column === 0;
    const top = opts.row === 0;
    new Chart(document.getElementById(id), {
        type: 'scatter',
        data: { datasets: sets },
        plugins: [panelDeco],
        options: {
            responsive: false,
            animation: false,
            layout: {
                padding: {
                    left: left ? 0 : 598,
                    right: left ? 598 : 0,
                    top: top ? 0 : 567,
                    bottom: top ? 588 : 0
                }
            },
            scales: {
                x: left ? makeAxis('x', -1.189, 1.085, 'bottom', !top) : makeAxis('x', -1.244, 1.144, 'bottom', !top),
                y: left ? makeAxis('y', -0.72, 1.181, 'left', true) : makeAxis('y', -1.288, 1.258, 'right', true)
            },
            plugins: {
                legend: { display: false },
                tooltip: { enabled: false },
                title: {
                    display: top,
                    text: top ? panelTitles[opts.column] : '',
                    fullSize: false,
                    color: '#000',
                    font: { family: '"DejaVu Sans"', size: 19.4, weight: 'normal', lineHeight: 0.8 },
                    padding: { top: 0, bottom: 8.5 }
                },
                panelDeco: { legendX: opts.legendX, legendY: opts.legendY }
            }
        }
    });
}

makePanel('topLeft', scatterSets(leftByEmotion, emotionNames, emotionColors), { column: 0, row: 0 });
makePanel('topRight', scatterSets(rightByEmotion, emotionNames, emotionColors), { column: 1, row: 0, legendX: 1034, legendY: 46 });
makePanel('bottomLeft', scatterSets(bySpeaker(leftByEmotion), speakerNames, speakerColors), { column: 0, row: 1 });
makePanel('bottomRight', scatterSets(bySpeaker(rightByEmotion), speakerNames, speakerColors), { column: 1, row: 1, legendX: 1026, legendY: 589 });
</script>
</body>
</html>
